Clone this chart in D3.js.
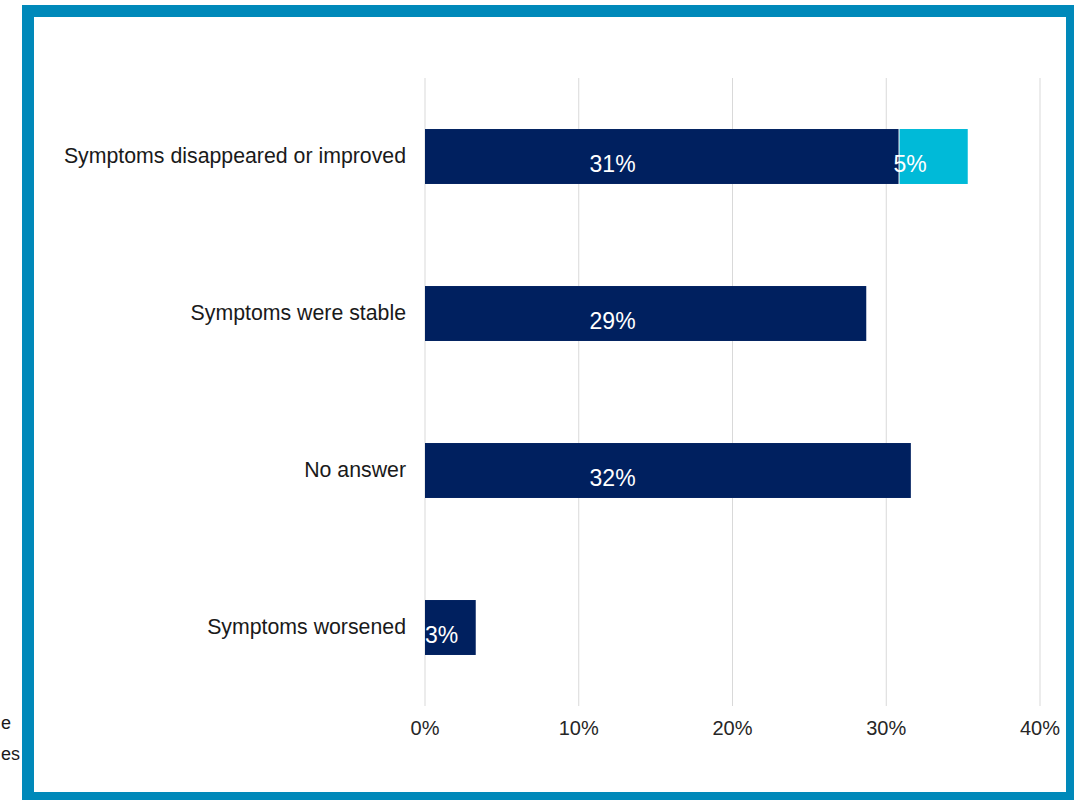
<!DOCTYPE html>
<html>
<head>
<meta charset="utf-8">
<script src="https://cdnjs.cloudflare.com/ajax/libs/d3/7.8.5/d3.min.js"></script>
<style>
  html, body { margin: 0; padding: 0; background: #fff; }
  svg { display: block; font-family: "Liberation Sans", Arial, sans-serif; }
</style>
</head>
<body>
<svg id="chart" width="1074" height="800"></svg>
<script>
// Outcome categories, top to bottom
const categories = [
  "Symptoms disappeared or improved",
  "Symptoms were stable",
  "No answer",
  "Symptoms worsened"
];
// Main share (dark segment), percent
const mainValues = [30.8, 28.7, 31.6, 3.3];
// Additional share stacked on the first category (light segment), percent
const extraValues = [4.5, 0, 0, 0];
// Axis ticks
const tickValues = [0, 10, 20, 30, 40];
const tickLabels = ["0%", "10%", "20%", "30%", "40%"];
// Fragments of side notes at the left margin
const sideNotes = ["e", "es"];

const navy = "#00205F";
const cyan = "#00BAD8";
const frame = "#0089BA";

const svg = d3.select("#chart");

const x = d3.scaleLinear().domain([0, 40]).range([425, 1040]);
const y = d3.scaleBand().domain(categories).range([78, 706])
  .paddingInner(0.65).paddingOuter(0.325);

// Gridlines
svg.append("g").selectAll("line").data(tickValues).join("line")
  .attr("x1", d => x(d)).attr("x2", d => x(d))
  .attr("y1", 78).attr("y2", 706)
  .attr("stroke", "#d9d9d9").attr("stroke-width", 1);

// Tick labels
svg.append("g").selectAll("text").data(tickValues).join("text")
  .attr("x", d => x(d)).attr("y", 735)
  .attr("text-anchor", "middle")
  .attr("font-size", 20).attr("fill", "#262626")
  .text((d, i) => tickLabels[i]);

// Category labels
svg.append("g").selectAll("text").data(categories).join("text")
  .attr("x", 406).attr("y", d => y(d) + y.bandwidth() / 2)
  .attr("dy", "0.32em")
  .attr("text-anchor", "end")
  .attr("font-size", 21.3).attr("fill", "#1a1a1a")
  .text(d => d);

// Dark segments
svg.append("g").selectAll("rect").data(categories).join("rect")
  .attr("x", x(0)).attr("y", d => y(d))
  .attr("width", (d, i) => x(mainValues[i]) - x(0))
  .attr("height", y.bandwidth())
  .attr("fill", navy);

// Light segments
const extras = categories.map((c, i) => ({ c, i })).filter(o => extraValues[o.i] > 0);
svg.append("g").selectAll("rect").data(extras).join("rect")
  .attr("x", o => x(mainValues[o.i]) + 1).attr("y", o => y(o.c))
  .attr("width", o => x(mainValues[o.i] + extraValues[o.i]) - x(mainValues[o.i]) - 1)
  .attr("height", y.bandwidth())
  .attr("fill", cyan);

// Value labels on dark segments
const labelAnchor = x(12.2);
svg.append("g").selectAll("text").data(categories).join("text")
  .attr("x", (d, i) => x(mainValues[i]) - x(0) > 120 ? labelAnchor : x(0))
  .attr("text-anchor", (d, i) => x(mainValues[i]) - x(0) > 120 ? "middle" : "start")
  .attr("y", d => y(d) + y.bandwidth() / 2 + 15)
  .attr("font-size", 23).attr("fill", "#fff")
  .text((d, i) => Math.round(mainValues[i]) + "%");

// Value labels on light segments
svg.append("g").selectAll("text").data(extras).join("text")
  .attr("x", o => x(mainValues[o.i]) - 5)
  .attr("y", o => y(o.c) + y.bandwidth() / 2 + 15)
  .attr("font-size", 23).attr("fill", "#fff")
  .text(o => Math.round(extraValues[o.i]) + "%");

// Side notes at the left margin
svg.append("g").selectAll("text").data(sideNotes).join("text")
  .attr("x", 1).attr("y", (d, i) => 729 + i * 31)
  .attr("text-anchor", "start")
  .attr("font-size", 18).attr("fill", "#1a1a1a")
  .text(d => d);

// Frame
svg.append("rect")
  .attr("x", 28).attr("y", 11)
  .attr("width", 1044).attr("height", 787)
  .attr("fill", "none")
  .attr("stroke", frame).attr("stroke-width", 12);
</script>
</body>
</html>
